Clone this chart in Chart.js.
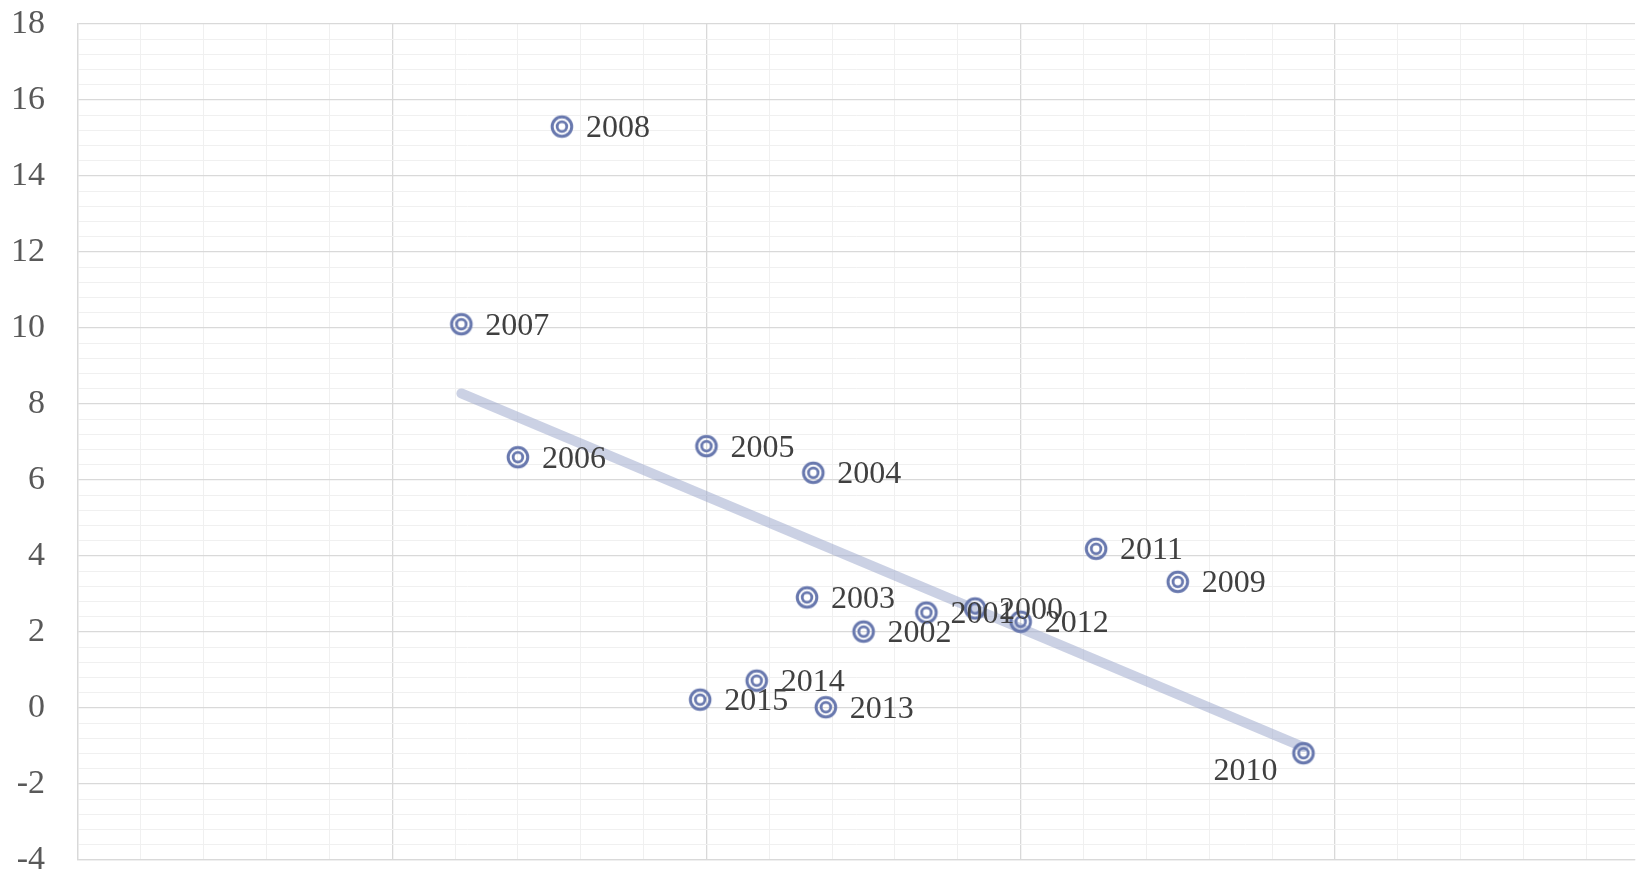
<!DOCTYPE html>
<html>
<head>
<meta charset="utf-8">
<script src="https://cdn.jsdelivr.net/npm/chart.js@4/dist/chart.umd.min.js"></script>
<style>
html, body { margin: 0; padding: 0; background: #fff; overflow: hidden; }
#wrap { width: 1648px; height: 873px; position: relative; }
</style>
</head>
<body>
<div id="wrap"><canvas id="chart"></canvas></div>
<script>
// one point per year
const years   = ['2000', '2001', '2002', '2003', '2004', '2005', '2006', '2007',
                 '2008', '2009', '2010', '2011', '2012', '2013', '2014', '2015'];
const xValues = [5.71, 5.40, 5.00, 4.64, 4.68, 4.00, 2.80, 2.44,
                 3.08, 7.00, 7.80, 6.48, 6.00, 4.76, 4.32, 3.96];
const yValues = [2.62, 2.51, 2.01, 2.91, 6.19, 6.89, 6.6, 10.1,
                 15.3, 3.32, -1.19, 4.19, 2.27, 0.02, 0.72, 0.22];
const yTickLabels = ['-4', '-2', '0', '2', '4', '6', '8', '10', '12', '14', '16', '18'];
const leftLabels = ['2010']; // labels placed below-left of the marker

const points = years.map((yr, i) => ({ x: xValues[i], y: yValues[i] }));

// linear trendline (least squares) over the data
function trend() {
    const n = xValues.length;
    const mx = xValues.reduce((a, b) => a + b, 0) / n;
    const my = yValues.reduce((a, b) => a + b, 0) / n;
    let sxy = 0, sxx = 0;
    for (let i = 0; i < n; i++) {
        sxy += (xValues[i] - mx) * (yValues[i] - my);
        sxx += (xValues[i] - mx) * (xValues[i] - mx);
    }
    const slope = sxy / sxx;
    const x0 = Math.min(...xValues), x1 = Math.max(...xValues);
    return [{ x: x0, y: my + slope * (x0 - mx) }, { x: x1, y: my + slope * (x1 - mx) }];
}

function makeMarker() {
    const c = document.createElement('canvas');
    c.width = 28; c.height = 28;
    const g = c.getContext('2d');
    g.strokeStyle = '#6878ae';
    g.lineWidth = 3;
    g.beginPath(); g.arc(14, 14, 9.8, 0, Math.PI * 2); g.stroke();
    g.lineWidth = 2.8;
    g.beginPath(); g.arc(14, 14, 4.8, 0, Math.PI * 2); g.stroke();
    return c;
}

function isMajor(v) {
    return Math.abs(v / 2 - Math.round(v / 2)) < 1e-6;
}
function gridColor(ctx) {
    return ctx.tick && isMajor(ctx.tick.value) ? '#d9d9d9' : '#f0f0f0';
}
function gridWidth(ctx) {
    return ctx.tick && isMajor(ctx.tick.value) ? 1.3 : 1;
}

const pointLabels = {
    id: 'pointLabels',
    afterDatasetsDraw(chart) {
        const ctx = chart.ctx;
        const meta = chart.getDatasetMeta(0);
        ctx.save();
        ctx.font = '32px "Liberation Serif"';
        ctx.fillStyle = '#404040';
        ctx.textBaseline = 'middle';
        meta.data.forEach((el, i) => {
            if (leftLabels.includes(years[i])) {
                ctx.textAlign = 'right';
                ctx.fillText(years[i], el.x - 26, el.y + 18);
            } else {
                ctx.textAlign = 'left';
                ctx.fillText(years[i], el.x + 24, el.y + 2);
            }
        });
        ctx.restore();
    }
};

new Chart(document.getElementById('chart'), {
    type: 'scatter',
    data: {
        datasets: [{
            data: points,
            pointStyle: makeMarker(),
            pointRadius: 12,
            order: 0
        }, {
            type: 'line',
            data: trend(),
            borderColor: 'rgba(160, 172, 205, 0.55)',
            borderWidth: 10,
            borderCapStyle: 'round',
            pointRadius: 0,
            fill: false,
            order: 1
        }]
    },
    options: {
        responsive: true,
        maintainAspectRatio: false,
        animation: false,
        events: [],
        layout: { padding: { top: 24, bottom: 12, left: 0, right: 0 } },
        plugins: { legend: { display: false }, tooltip: { enabled: false } },
        scales: {
            x: {
                type: 'linear',
                min: 0,
                max: 9.91, // axis runs to 10 just past the right edge
                ticks: { display: false, stepSize: 0.4, autoSkip: false, includeBounds: false },
                grid: { color: gridColor, lineWidth: gridWidth, drawTicks: false },
                border: { color: '#d9d9d9', width: 1.3 },
                afterFit(s) { s.height = 0; s.paddingLeft = 0; s.paddingRight = 0; }
            },
            y: {
                min: -4,
                max: 18,
                ticks: {
                    stepSize: 0.4,
                    autoSkip: false,
                    padding: 33,
                    color: '#595959',
                    font: { family: 'Liberation Serif', size: 34 },
                    callback: function(v) {
                        if (!isMajor(v)) return '';
                        return yTickLabels[Math.round((v + 4) / 2)];
                    }
                },
                grid: { color: gridColor, lineWidth: gridWidth, drawTicks: false },
                border: { color: '#d9d9d9', width: 1.3 },
                afterFit(s) { s.width = 78; s.paddingTop = 0; s.paddingBottom = 0; }
            }
        }
    },
    plugins: [pointLabels]
});
</script>
</body>
</html>
